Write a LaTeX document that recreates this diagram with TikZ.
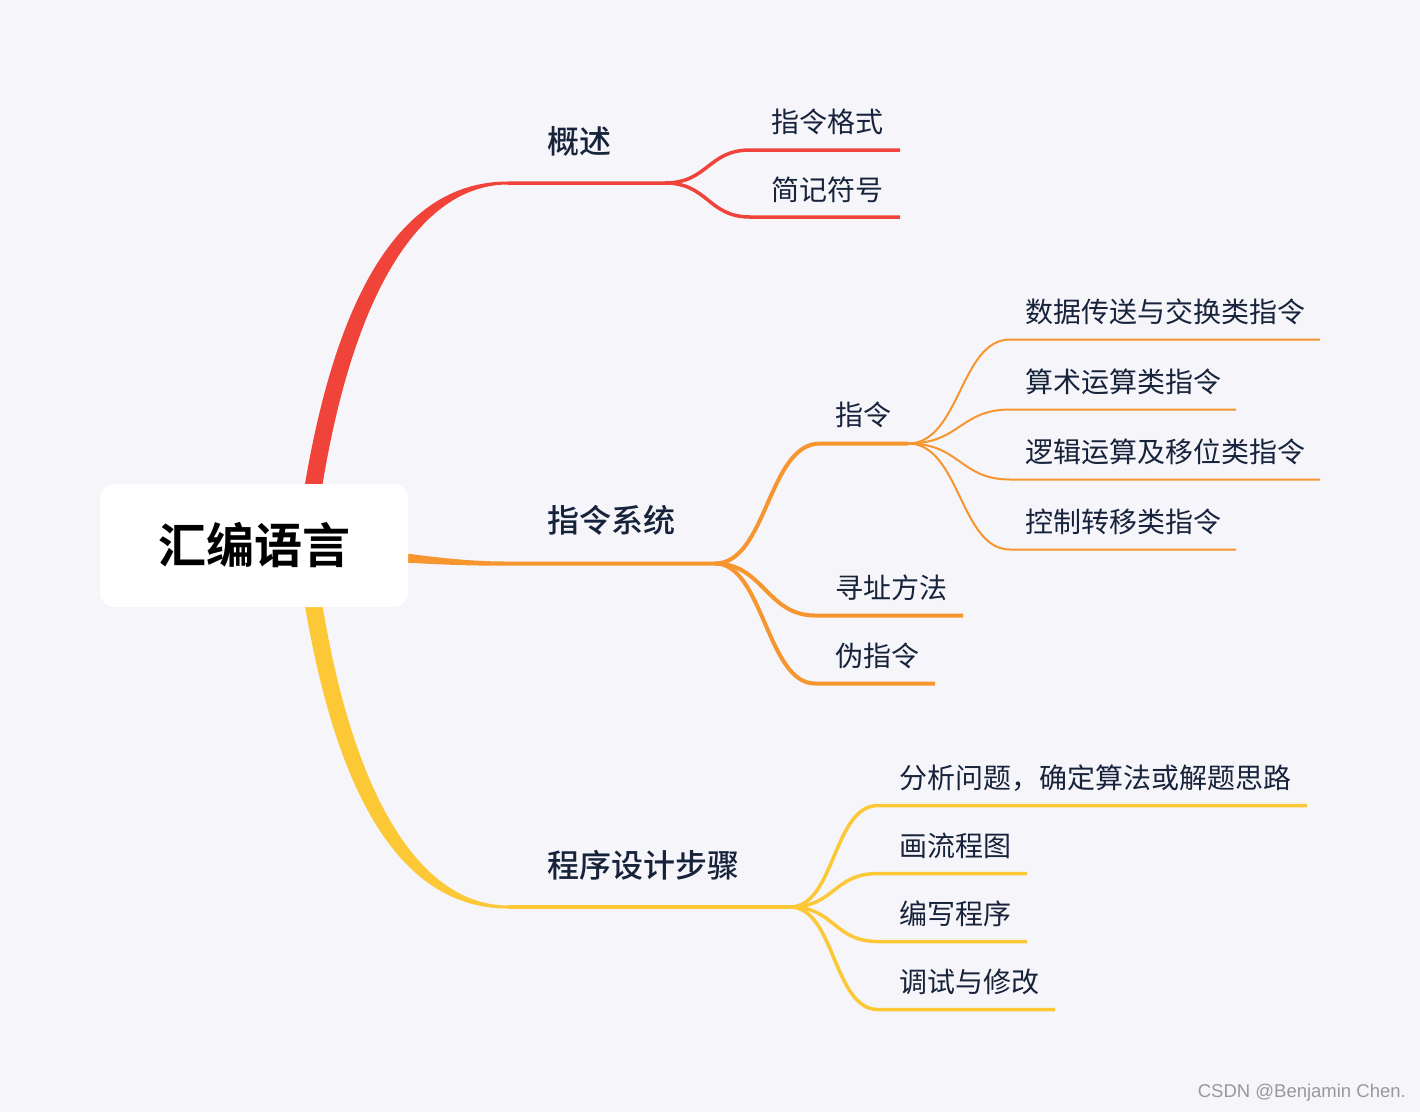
\documentclass[tikz,border=0pt]{standalone}
\usepackage{fontspec}
\setmainfont{Noto Sans CJK SC}
\IfFontExistsTF{Noto Sans CJK SC Medium}
  {\newfontfamily\medcjk{Noto Sans CJK SC Medium}}
  {\newfontfamily\medcjk[FakeBold=1.2]{Noto Sans CJK SC}}
\IfFontExistsTF{Noto Sans CJK SC Bold}
  {\newfontfamily\boldcjk{Noto Sans CJK SC Bold}}
  {\newfontfamily\boldcjk[FakeBold=2]{Noto Sans CJK SC}}
\newfontfamily\wmfont{Liberation Sans}
\definecolor{bg}{HTML}{F5F5FA}
\definecolor{cred}{HTML}{F0433A}
\definecolor{corange}{HTML}{F7952F}
\definecolor{cyellow}{HTML}{FDC836}
\definecolor{txt}{HTML}{17233B}
\begin{document}
\begin{tikzpicture}[x=1pt,y=-1pt,
  lbl/.style={anchor=west,inner sep=0pt,text=txt,font=\fontsize{28}{32}\selectfont},
  mainlbl/.style={anchor=west,inner sep=0pt,text=txt,font=\medcjk\fontsize{32}{36}\selectfont},
  linktwo/.style={line width=3.5pt},
  linkor/.style={line width=4pt},
  linkthree/.style={line width=2pt},
]
\useasboundingbox (0,0) rectangle (1420,1112);
\fill[bg] (0,0) rectangle (1420,1112);

% tapered main branches
\fill[cred] (296,545) .. controls (327,300) and (398,181.5) .. (508,181.5) -- (508,184.5) .. controls (418,184.5) and (343,300) .. (314,545) -- cycle;
\fill[cyellow] (296,545) .. controls (327,790) and (398,908.5) .. (508,908.5) -- (508,905.5) .. controls (418,905.5) and (343,790) .. (314,545) -- cycle;
\fill[corange] (395,552) .. controls (440,558) and (470,561.5) .. (508,561.5) -- (508,565.5) .. controls (470,566) and (440,564.5) .. (395,562) -- cycle;

% root
\node[fill=white, rounded corners=14pt, minimum width=308pt, minimum height=123pt, inner sep=0pt,
      font=\boldcjk\fontsize{48}{56}\selectfont, text=black] (root) at (254,545.5) {汇编语言};

% coordinates
\coordinate (rA) at (508,183);  \coordinate (rH) at (665,183);
\coordinate (r1s) at (750,150); \coordinate (r1e) at (900,150);
\coordinate (r2s) at (750,217); \coordinate (r2e) at (900,217);

\coordinate (oA) at (508,563.5); \coordinate (oH) at (715,563.5);
\coordinate (o1s) at (820,443.5); \coordinate (o1e) at (908,443.5);
\coordinate (o2s) at (815,615.5); \coordinate (o2e) at (963,615.5);
\coordinate (o3s) at (815,683.5); \coordinate (o3e) at (935,683.5);

\coordinate (t1s) at (1010,339.5); \coordinate (t1e) at (1320,339.5);
\coordinate (t2s) at (1010,409.5); \coordinate (t2e) at (1236,409.5);
\coordinate (t3s) at (1010,479.5); \coordinate (t3e) at (1320,479.5);
\coordinate (t4s) at (1010,549.5); \coordinate (t4e) at (1236,549.5);

\coordinate (yA) at (508,907);  \coordinate (yH) at (790,907);
\coordinate (y1s) at (878,805.5);  \coordinate (y1e) at (1307,805.5);
\coordinate (y2s) at (878,873.5);  \coordinate (y2e) at (1027,873.5);
\coordinate (y3s) at (878,941.5);  \coordinate (y3e) at (1027,941.5);
\coordinate (y4s) at (878,1009.5); \coordinate (y4e) at (1055,1009.5);

% red links
\draw[cred,linktwo] (rA) -- (rH) .. controls +(43,0) and +(-42,0) .. (r1s) -- (r1e);
\draw[cred,linktwo] (rH) .. controls +(43,0) and +(-42,0) .. (r2s) -- (r2e);

% orange links
\draw[corange,linkor] (oA) -- (oH) .. controls +(52,0) and +(-52,0) .. (o1s) -- (o1e);
\draw[corange,linkor] (oH) .. controls +(48,0) and +(-48,0) .. (o2s) -- (o2e);
\draw[corange,linkor] (oH) .. controls +(48,0) and +(-48,0) .. (o3s) -- (o3e);
\foreach \s/\e in {t1s/t1e,t2s/t2e,t3s/t3e,t4s/t4e}{
  \draw[corange,linkthree] (o1e) .. controls +(52,0) and +(-50,0) .. (\s) -- (\e);
}

% yellow links
\draw[cyellow,linktwo] (yA) -- (yH);
\foreach \s/\e in {y1s/y1e,y2s/y2e,y3s/y3e,y4s/y4e}{
  \draw[cyellow,linktwo] (yH) .. controls +(45,0) and +(-45,0) .. (\s) -- (\e);
}

% labels
\node[mainlbl] (gs) at (547.5,141) {概述};
\node[mainlbl] (zlxt) at (547.5,520) {指令系统};
\node[mainlbl] (cxsj) at (547.5,865) {程序设计步骤};

\node[lbl] (zlgs) at (771.5,122) {指令格式};
\node[lbl] (jjfh) at (771.5,190) {简记符号};

\node[lbl] (zl) at (835.5,415) {指令};
\node[lbl] (xzff) at (835.5,588) {寻址方法};
\node[lbl] (wzl) at (835.5,656) {伪指令};

\node[lbl] (sj) at (1025.5,312) {数据传送与交换类指令};
\node[lbl] (ss) at (1025.5,382) {算术运算类指令};
\node[lbl] (lj) at (1025.5,452) {逻辑运算及移位类指令};
\node[lbl] (kz) at (1025.5,522) {控制转移类指令};

\node[lbl] (fx) at (899.5,778) {分析问题，确定算法或解题思路};
\node[lbl] (hlc) at (899.5,846) {画流程图};
\node[lbl] (bx) at (899.5,914) {编写程序};
\node[lbl] (ts) at (899.5,982) {调试与修改};

\node[anchor=east, inner sep=0pt, text=black!40, font=\wmfont\fontsize{18.5}{20}\selectfont] (wm) at (1406,1093) {CSDN @Benjamin Chen.};
\end{tikzpicture}
\end{document}
